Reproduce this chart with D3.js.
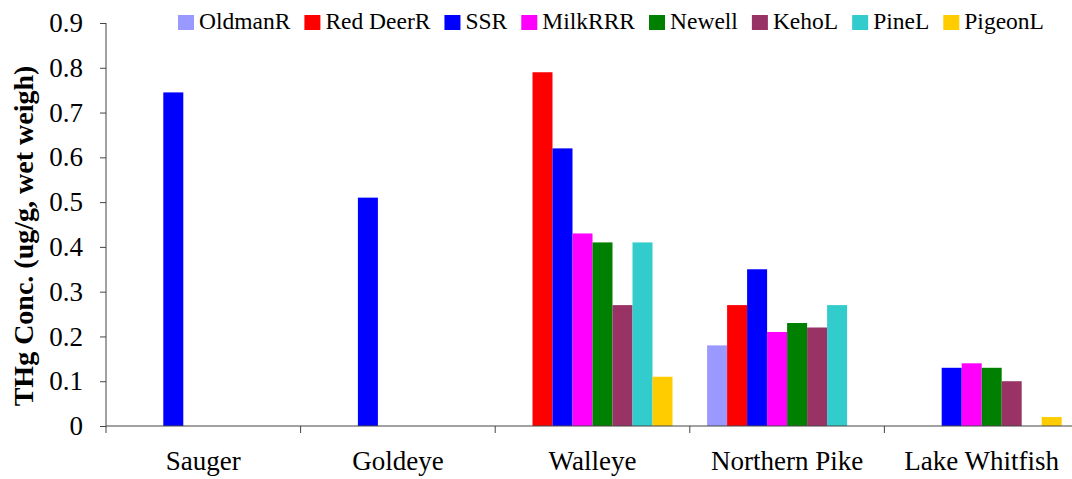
<!DOCTYPE html>
<html>
<head>
<meta charset="utf-8">
<script src="https://cdn.jsdelivr.net/npm/d3@7"></script>
<style>
  html, body { margin: 0; padding: 0; background: #fff; }
  svg { display: block; }
</style>
</head>
<body>
<svg id="chart" width="1072" height="479"></svg>
<script>
const categories = ["Sauger", "Goldeye", "Walleye", "Northern Pike", "Lake Whitfish"];
const seriesNames = ["OldmanR", "Red DeerR", "SSR", "MilkRRR", "Newell", "KehoL", "PineL", "PigeonL"];
const seriesColors = ["#9999ff", "#ff0000", "#0000ff", "#ff00ff", "#008000", "#993366", "#33cccc", "#ffcc00"];
const oldmanR  = [null, null, null, 0.18, null];
const redDeerR = [null, null, 0.79, 0.27, null];
const ssr      = [0.745, 0.51, 0.62, 0.35, 0.13];
const milkRRR  = [null, null, 0.43, 0.21, 0.14];
const newell   = [null, null, 0.41, 0.23, 0.13];
const kehoL    = [null, null, 0.27, 0.22, 0.10];
const pineL    = [null, null, 0.41, 0.27, null];
const pigeonL  = [null, null, 0.11, null, 0.02];
const seriesValues = [oldmanR, redDeerR, ssr, milkRRR, newell, kehoL, pineL, pigeonL];
const yTicks = [0, 0.1, 0.2, 0.3, 0.4, 0.5, 0.6, 0.7, 0.8, 0.9];
const yTitle = "THg Conc. (ug/g, wet weigh)";

(function () {
const FONT = "'Liberation Serif', 'Times New Roman', serif";
const svg = d3.select("#chart");
const mLeft = 106, mRight = 1079, mTop = 23, mBottom = 426;

const x0 = d3.scaleBand().domain(categories).range([mLeft, mRight]).padding(0);
const x1 = d3.scaleBand().domain(seriesNames).range([0, x0.bandwidth()]).paddingInner(0).paddingOuter(0.865);
const y = d3.scaleLinear().domain([0, 0.9]).range([mBottom, mTop]);

// bars
const flat = [];
seriesNames.forEach((s, si) => {
  categories.forEach((c, ci) => {
    const v = seriesValues[si][ci];
    if (v != null) flat.push({ s, c, v, color: seriesColors[si] });
  });
});
svg.append("g").selectAll("rect").data(flat).join("rect")
  .attr("x", d => x0(d.c) + x1(d.s))
  .attr("y", d => y(d.v))
  .attr("width", x1.bandwidth())
  .attr("height", d => y(0) - y(d.v))
  .attr("fill", d => d.color);

const axisColor = "#444";

// y axis
const yAxis = svg.append("g").attr("transform", `translate(${mLeft},0)`)
  .call(d3.axisLeft(y).tickValues(yTicks).tickSize(6).tickPadding(17)
    .tickFormat(d => d === 0 ? "0" : d3.format(".1f")(d)));
yAxis.attr("font-family", null).attr("font-size", null);
yAxis.select(".domain").attr("stroke", axisColor).attr("d", `M0,${mTop}V${mBottom}`);
yAxis.selectAll(".tick line").attr("stroke", axisColor);
yAxis.selectAll(".tick text")
  .style("font-family", FONT).style("font-size", "27px").attr("fill", "#000");

// x axis baseline & boundary ticks
const bounds = categories.map(c => x0(c)).concat([mRight]);
svg.append("line").attr("x1", mLeft).attr("x2", mRight).attr("y1", mBottom).attr("y2", mBottom)
  .attr("stroke", axisColor);
svg.append("g").selectAll("line").data(bounds).join("line")
  .attr("x1", d => d).attr("x2", d => d)
  .attr("y1", mBottom).attr("y2", mBottom + 7)
  .attr("stroke", axisColor);
svg.append("g").selectAll("text").data(categories).join("text")
  .attr("x", d => x0(d) + x0.bandwidth() / 2)
  .attr("y", 470)
  .attr("text-anchor", "middle")
  .style("font-family", FONT).style("font-size", "27px")
  .text(d => d);

// y title
svg.append("text")
  .attr("transform", `translate(33,236) rotate(-90)`)
  .attr("text-anchor", "middle")
  .style("font-family", FONT).style("font-size", "28px").style("font-weight", "bold")
  .text(yTitle);

// legend
const lg = svg.append("g");
let lx = 178;
seriesNames.forEach((s, i) => {
  lg.append("rect").attr("x", lx).attr("y", 15).attr("width", 16).attr("height", 15).attr("fill", seriesColors[i]);
  const t = lg.append("text").attr("x", lx + 21).attr("y", 29)
    .style("font-family", FONT).style("font-size", "23.5px").text(s);
  lx += 21 + t.node().getComputedTextLength() + 14;
});
})();
</script>
</body>
</html>
